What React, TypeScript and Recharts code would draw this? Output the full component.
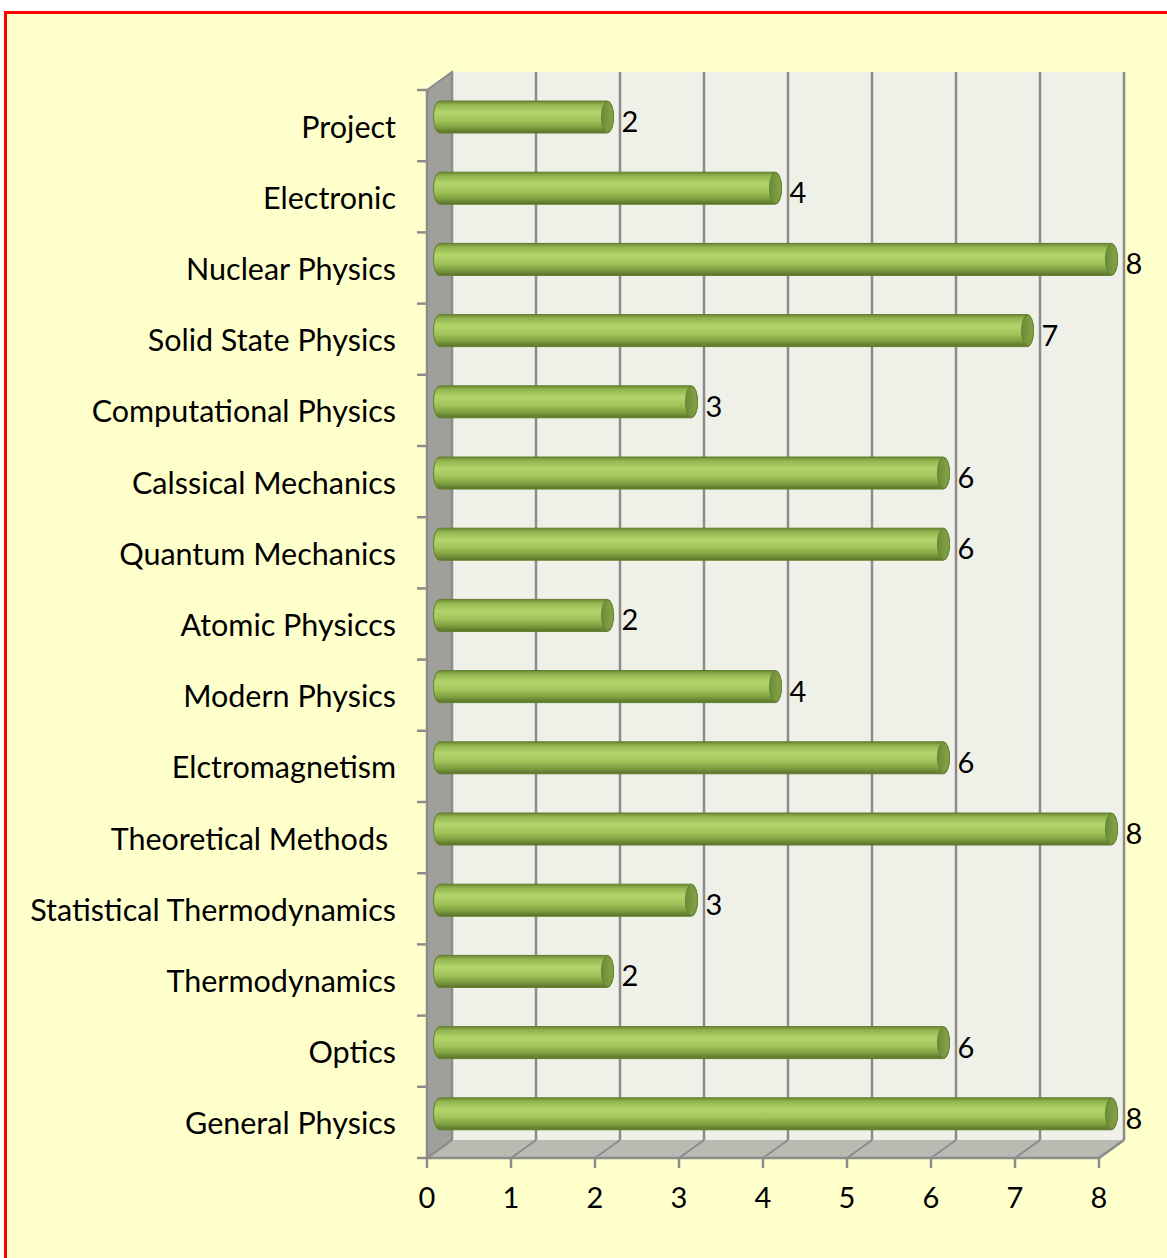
import React from 'react';
import { BarChart, Bar, XAxis, YAxis, CartesianGrid, ReferenceArea, LabelList } from 'recharts';

const courses = [
  'Project',
  'Electronic',
  'Nuclear Physics',
  'Solid State Physics',
  'Computational Physics',
  'Calssical Mechanics',
  'Quantum Mechanics',
  'Atomic Physiccs',
  'Modern Physics',
  'Elctromagnetism',
  'Theoretical Methods ',
  'Statistical Thermodynamics',
  'Thermodynamics',
  'Optics',
  'General Physics',
];
const counts = [2, 4, 8, 7, 3, 6, 6, 2, 4, 6, 8, 3, 2, 6, 8];
const xTicks = [0, 1, 2, 3, 4, 5, 6, 7, 8];

const W = 1167;
const H = 1258;
const TOP = 90;
const BOTTOM = 100;
const Y_AXIS_W = 427;
const DX = 25; // depth offset of the back wall
const DY = 18;
const BAND = (H - TOP - BOTTOM) / courses.length;
const FONT = 'Lato, "Open Sans", sans-serif';
const GRID = '#8c8c8c';

const data = courses.map((name, i) => ({ name, value: counts[i] }));

// back wall, left wall and floor of the 3-D box
const Walls = (p: any) => {
  const { x, y, width: w, height: h } = p;
  return (
    <g>
      <defs>
        <linearGradient id="cyl" x1="0" y1="0" x2="0" y2="1">
          <stop offset="0" stopColor="#6a8834" />
          <stop offset="0.12" stopColor="#93b550" />
          <stop offset="0.36" stopColor="#b2d56b" />
          <stop offset="0.6" stopColor="#a2c55b" />
          <stop offset="0.82" stopColor="#80a040" />
          <stop offset="1" stopColor="#57722a" />
        </linearGradient>
        <linearGradient id="cap" x1="0" y1="0" x2="1" y2="0">
          <stop offset="0" stopColor="#6d8b37" />
          <stop offset="1" stopColor="#85a549" />
        </linearGradient>
      </defs>
      <rect x={x + DX} y={y - DY} width={w} height={h} fill="#eff1e9" />
      <polygon
        points={`${x},${y + h} ${x + DX},${y + h - DY} ${x + w + DX},${y + h - DY} ${x + w},${y + h}`}
        fill="#b9bab2"
      />
      <polygon
        points={`${x},${y} ${x + DX},${y - DY} ${x + DX},${y + h - DY} ${x},${y + h}`}
        fill="#a0a09a"
        stroke={GRID}
        strokeWidth={2}
      />
      <line x1={x + w} y1={y + h} x2={x + w + DX} y2={y + h - DY} stroke={GRID} strokeWidth={2.5} />
    </g>
  );
};

const GridLine = (p: any) => (
  <g key={p.key}>
    <line x1={p.x1 + DX} y1={p.y1 - DY} x2={p.x2 + DX} y2={p.y2 - DY} stroke={GRID} strokeWidth={2.5} />
    <line x1={p.x2} y1={p.y2} x2={p.x2 + DX} y2={p.y2 - DY} stroke={GRID} strokeWidth={2} />
  </g>
);

const Cylinder = (p: any) => {
  const { x, y, width, height } = p;
  const bx = x + DX / 2;
  const by = y - DY / 2;
  const rx = 6;
  const ry = height / 2;
  return (
    <g>
      <path
        d={`M${bx},${by} L${bx + width},${by} A${rx},${ry} 0 0 1 ${bx + width},${by + height} L${bx},${by + height} A${rx},${ry} 0 0 1 ${bx},${by} Z`}
        fill="url(#cyl)"
        stroke="#627e2d"
        strokeWidth={1}
      />
      <ellipse cx={bx + width} cy={by + ry} rx={rx} ry={ry - 0.5} fill="url(#cap)" stroke="#66832f" strokeWidth={1} />
    </g>
  );
};

const ValueLabel = (p: any) => {
  const { x, y, width, height, value } = p;
  const cy = y + height / 2 - DY / 2;
  return (
    <text x={x + width + DX / 2 + 14} y={cy + 15} fontSize={29} fontFamily={FONT} fill="#000">
      {value}
    </text>
  );
};

const CourseTick = (p: any) => {
  const { y, payload, index } = p;
  return (
    <g>
      <text
        x={Y_AXIS_W - 31}
        y={y + 12}
        textAnchor="end"
        fontSize={30.5}
        fontFamily={FONT}
        fill="#000"
        style={{ whiteSpace: 'pre' }}
      >
        {payload.value}
      </text>
      {index === 0 && (
        <line x1={Y_AXIS_W - 10} y1={y - BAND / 2} x2={Y_AXIS_W} y2={y - BAND / 2} stroke={GRID} strokeWidth={2.5} />
      )}
      <line x1={Y_AXIS_W - 10} y1={y + BAND / 2} x2={Y_AXIS_W} y2={y + BAND / 2} stroke={GRID} strokeWidth={2.5} />
    </g>
  );
};

const NumberTick = (p: any) => {
  const { x, y, payload } = p;
  return (
    <text x={x} y={y + 38} textAnchor="middle" fontSize={29} fontFamily={FONT} fill="#000">
      {payload.value}
    </text>
  );
};

export default function App() {
  return (
    <div style={{ position: 'fixed', left: 0, top: 0, width: W, height: H, overflow: 'hidden', background: '#fff' }}>
      <div
        style={{
          position: 'absolute',
          left: 4,
          top: 11,
          width: W + 20,
          height: H + 20,
          border: '3px solid #ff0000',
          background: '#ffffcc',
        }}
      />
      <div style={{ position: 'absolute', left: 0, top: 0 }}>
        <BarChart
          width={W}
          height={H}
          data={data}
          layout="vertical"
          margin={{ top: TOP, right: 68, bottom: BOTTOM - 60, left: 0 }}
          barSize={32}
        >
          <ReferenceArea x1={0} x2={8} shape={Walls} zIndex={-200} ifOverflow="visible" />
          <CartesianGrid horizontal={false} vertical={GridLine} />
          <XAxis
            type="number"
            domain={[0, 8]}
            ticks={xTicks}
            height={60}
            axisLine={{ stroke: GRID, strokeWidth: 2.5 }}
            tickLine={{ stroke: GRID, strokeWidth: 2.5 }}
            tickSize={10}
            tick={NumberTick}
            interval={0}
          />
          <YAxis
            type="category"
            dataKey="name"
            width={Y_AXIS_W}
            axisLine={{ stroke: GRID, strokeWidth: 2.5 }}
            tickLine={false}
            tick={CourseTick}
            interval={0}
          />
          <Bar dataKey="value" shape={Cylinder} isAnimationActive={false}>
            <LabelList dataKey="value" content={ValueLabel} />
          </Bar>
        </BarChart>
      </div>
    </div>
  );
}
